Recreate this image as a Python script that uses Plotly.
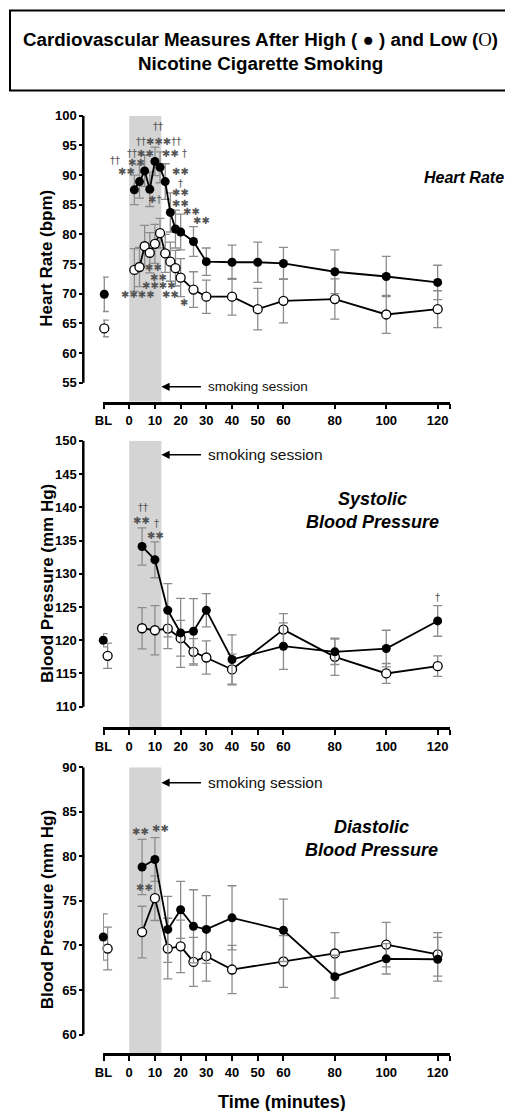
import plotly.graph_objects as go

# ---------------- data ----------------
tick_vals = [-10, 0, 10, 20, 30, 40, 50, 60, 80, 100, 120]
tick_text = ["BL", "0", "10", "20", "30", "40", "50", "60", "80", "100", "120"]

hr_time = [2, 4, 6, 8, 10, 12, 14, 16, 18, 20, 25, 30, 40, 50, 60, 80, 100, 120]
hr_high = [87.5, 88.9, 90.7, 87.6, 92.3, 91.3, 88.9, 83.7, 80.9, 80.4, 78.8, 75.4, 75.3, 75.3, 75.1, 73.7, 72.9, 71.9]
hr_high_se = [2.5, 2.8, 2.6, 2.9, 2.4, 2.6, 3.0, 3.3, 3.2, 3.0, 2.5, 2.3, 2.9, 3.4, 2.7, 3.7, 3.4, 2.9]
hr_low = [74.0, 74.5, 78.0, 76.9, 78.4, 80.2, 76.8, 75.4, 74.3, 72.7, 70.7, 69.5, 69.5, 67.4, 68.8, 69.1, 66.5, 67.4]
hr_low_se = [3.6, 3.3, 3.5, 3.4, 3.3, 2.5, 3.2, 3.3, 3.0, 3.2, 3.0, 2.8, 3.1, 3.5, 3.7, 3.4, 3.2, 3.1]
hr_bl_high, hr_bl_high_se = 69.9, 2.9
hr_bl_low, hr_bl_low_se = 64.15, 1.4

bp_time = [5, 10, 15, 20, 25, 30, 40, 60, 80, 100, 120]
sbp_high = [134.1, 132.1, 124.5, 121.1, 121.35, 124.5, 117.1, 119.1, 118.25, 118.75, 122.9]
sbp_high_se = [2.8, 2.7, 4.0, 5.2, 4.9, 2.5, 3.7, 3.5, 1.9, 2.75, 2.3]
sbp_low = [121.8, 121.5, 121.75, 120.3, 118.25, 117.4, 115.6, 121.6, 117.5, 115.0, 116.1]
sbp_low_se = [3.1, 3.7, 3.0, 2.7, 2.0, 2.5, 2.3, 2.4, 2.8, 1.5, 1.55]
sbp_bl_high, sbp_bl_high_se = 120.0, 1.0
sbp_bl_low, sbp_bl_low_se = 117.65, 1.9

dbp_high = [78.8, 79.65, 71.8, 74.0, 72.15, 71.8, 73.1, 71.7, 66.5, 68.5, 68.45]
dbp_high_se = [3.1, 2.45, 3.7, 3.2, 4.1, 3.8, 3.6, 3.5, 2.4, 1.7, 2.45]
dbp_low = [71.5, 75.3, 69.65, 69.9, 68.15, 68.8, 67.3, 68.2, 69.1, 70.1, 69.0]
dbp_low_se = [2.9, 2.5, 3.4, 2.95, 2.75, 2.8, 2.7, 2.9, 2.35, 2.5, 2.45]
dbp_bl_high, dbp_bl_high_se = 70.95, 2.6
dbp_bl_low, dbp_bl_low_se = 69.65, 2.4

smoke_end = 12.5

# ---------------- layout helpers ----------------
# the page body has an 8px margin; the figure is sized so it fills the 513x1111 window
OFF = 8
W, H = 513 - OFF, 1111 - OFF

def fx(px):
    return (px - OFF) / W

def fy(py):
    return 1 - (py - OFF) / H

FONT = "Liberation Sans"
X_RANGE = [-10.2, 124.8]
X_DOM = [fx(103), fx(450)]
Y_POS = fx(83.3)

panels = [
    dict(top=115.7, bot=401.7, rng=[51.8, 100.0], ticks=[55, 60, 65, 70, 75, 80, 85, 90, 95, 100],
         ylab="Heart Rate (bpm)"),
    dict(top=440.8, bot=727.3, rng=[106.9, 150.0], ticks=[110, 115, 120, 125, 130, 135, 140, 145, 150],
         ylab="Blood Pressure (mm Hg)"),
    dict(top=767.2, bot=1053.3, rng=[57.9, 90.0], ticks=[60, 65, 70, 75, 80, 85, 90],
         ylab="Blood Pressure (mm Hg)"),
]

fig = go.Figure()
ERR = "#8c8c8c"

def add_series(i, t, y, se, filled, bl_x, bl_y, bl_se):
    xa = "x" if i == 0 else f"x{i+1}"
    ya = "y" if i == 0 else f"y{i+1}"
    marker = dict(size=9, color="black", line=dict(width=0)) if filled else \
        dict(size=9, color="white", line=dict(color="black", width=1.3))
    eb = dict(type="data", array=se, color=ERR, thickness=1.3, width=4.5)
    fig.add_trace(go.Scatter(x=t, y=y, mode="lines+markers", marker=marker,
                             line=dict(color="black", width=1.8), error_y=eb,
                             xaxis=xa, yaxis=ya, cliponaxis=False, showlegend=False))
    fig.add_trace(go.Scatter(x=[bl_x], y=[bl_y], mode="markers", marker=marker,
                             error_y=dict(type="data", array=[bl_se], color=ERR, thickness=1.3, width=4.5),
                             xaxis=xa, yaxis=ya, cliponaxis=False, showlegend=False))

add_series(0, hr_time, hr_low, hr_low_se, False, -9.7, hr_bl_low, hr_bl_low_se)
add_series(0, hr_time, hr_high, hr_high_se, True, -9.7, hr_bl_high, hr_bl_high_se)
add_series(1, bp_time, sbp_low, sbp_low_se, False, -8.4, sbp_bl_low, sbp_bl_low_se)
add_series(1, bp_time, sbp_high, sbp_high_se, True, -10.1, sbp_bl_high, sbp_bl_high_se)
add_series(2, bp_time, dbp_low, dbp_low_se, False, -8.4, dbp_bl_low, dbp_bl_low_se)
add_series(2, bp_time, dbp_high, dbp_high_se, True, -10.1, dbp_bl_high, dbp_bl_high_se)

shapes = []
annotations = []
layout = {}

def note(px, py, text, size, family=FONT, color="black", angle=0):
    annotations.append(dict(xref="paper", yref="paper", x=fx(px), y=fy(py), text=text,
                            xanchor="center", yanchor="middle", textangle=angle,
                            showarrow=False, font=dict(family=family, size=size, color=color)))

for i, p in enumerate(panels):
    sfx = "" if i == 0 else str(i + 1)
    xa_name, ya_name = "x" + sfx, "y" + sfx
    layout["xaxis" + sfx] = dict(
        domain=X_DOM, range=X_RANGE, anchor=ya_name, showgrid=False, zeroline=False,
        automargin=False,
        showline=True, linecolor="black", linewidth=2.5,
        ticks="outside", ticklen=5, tickwidth=2, tickcolor="black",
        tickvals=tick_vals + [X_RANGE[1]], ticktext=tick_text + [""],
        tickfont=dict(family=FONT, size=13, color="black", weight="bold"),
    )
    layout["yaxis" + sfx] = dict(
        domain=[fy(p["bot"]), fy(p["top"])], range=p["rng"], anchor="free", position=Y_POS,
        showgrid=False, zeroline=False, showline=False, automargin=False,
        ticks="outside", ticklen=4, tickwidth=2, tickcolor="black",
        tickvals=p["ticks"], ticktext=[str(v) for v in p["ticks"]],
        tickfont=dict(family=FONT, size=13, color="black", weight="bold"),
    )
    shapes.append(dict(type="line", xref="paper", yref=ya_name, x0=Y_POS, x1=Y_POS,
                       y0=p["ticks"][0], y1=p["ticks"][-1], line=dict(color="black", width=2.5)))
    shapes.append(dict(type="rect", xref=xa_name, yref=ya_name, x0=0, x1=smoke_end,
                       y0=p["rng"][0], y1=p["rng"][1], fillcolor="#d4d4d4",
                       line=dict(width=0), layer="below"))
    note(47, (p["top"] + p["bot"]) / 2, "<b>" + p["ylab"] + "</b>", 17, angle=-90)

arrow_specs = [(0, 54.3, 13.5), (1, 147.9, 15.5), (2, 88.26, 15.5)]
for i, yv, fs in arrow_specs:
    sfx = "" if i == 0 else str(i + 1)
    annotations.append(dict(xref="x" + sfx, yref="y" + sfx, axref="x" + sfx, ayref="y" + sfx,
                            x=smoke_end, y=yv, ax=28.5, ay=yv, text="", showarrow=True,
                            arrowhead=2, arrowsize=1.1, arrowwidth=1.5, arrowcolor="black"))
    annotations.append(dict(xref="x" + sfx, yref="y" + sfx, x=29.7, y=yv, xanchor="left",
                            yanchor="middle", text="smoking session", showarrow=False,
                            font=dict(family=FONT, size=fs, color="#111")))

note(464, 177, "<b><i>Heart Rate</i></b>", 16)
note(372, 510.5, "<b><i>Systolic<br>Blood Pressure</i></b>", 18)
note(371.5, 838, "<b><i>Diastolic<br>Blood Pressure</i></b>", 18)
note(282, 1102, "<b>Time (minutes)</b>", 18)

shapes.append(dict(type="rect", xref="paper", yref="paper", x0=fx(10), x1=fx(510.5),
                   y0=fy(90.5), y1=fy(10.5), line=dict(color="black", width=2)))
note(260, 51, "<b>Cardiovascular Measures After High ( ● ) and Low "
              "(<span style='font-family:Liberation Serif;font-weight:normal'>O</span>)"
              "<br>Nicotine Cigarette Smoking</b>", 18.8)

STAR = "\u2731"
DAG = "\u2020"
sig_marks = [
    (158, 127, DAG * 2),
    (158, 142, DAG * 2 + STAR * 3 + DAG * 2),
    (140, 153, DAG * 2 + STAR * 2), (170, 153, STAR * 2), (184, 153, DAG),
    (115, 161, DAG * 2), (136, 162, STAR * 2),
    (126, 172, STAR * 2), (180, 172, STAR * 2),
    (180, 183, DAG),
    (180, 193, STAR * 2),
    (154, 199, STAR + DAG),
    (180, 203, STAR * 2),
    (191, 212, STAR * 2),
    (201, 221, STAR * 2),
    (153, 267, STAR * 2),
    (158, 277, STAR * 2),
    (159, 285.5, STAR * 4),
    (138, 294.5, STAR * 4), (170, 294.5, STAR * 2),
    (184, 302, STAR),
    (142.7, 507.3, DAG * 2), (141.7, 521, STAR * 2), (156.7, 523, DAG), (155, 536, STAR * 2),
    (437.7, 597, DAG),
    (140, 831.7, STAR * 2), (160, 828.3, STAR * 2), (144, 887.3, STAR * 2),
]
for px, py, txt in sig_marks:
    note(px, py, txt, 10, family="DejaVu Sans", color="#555")

fig.update_layout(
    width=W, height=H, margin=dict(l=0, r=0, t=0, b=0, autoexpand=False),
    paper_bgcolor="white", plot_bgcolor="white",
    shapes=shapes, annotations=annotations, showlegend=False,
    **layout,
)

fig.write_html("out.html")
